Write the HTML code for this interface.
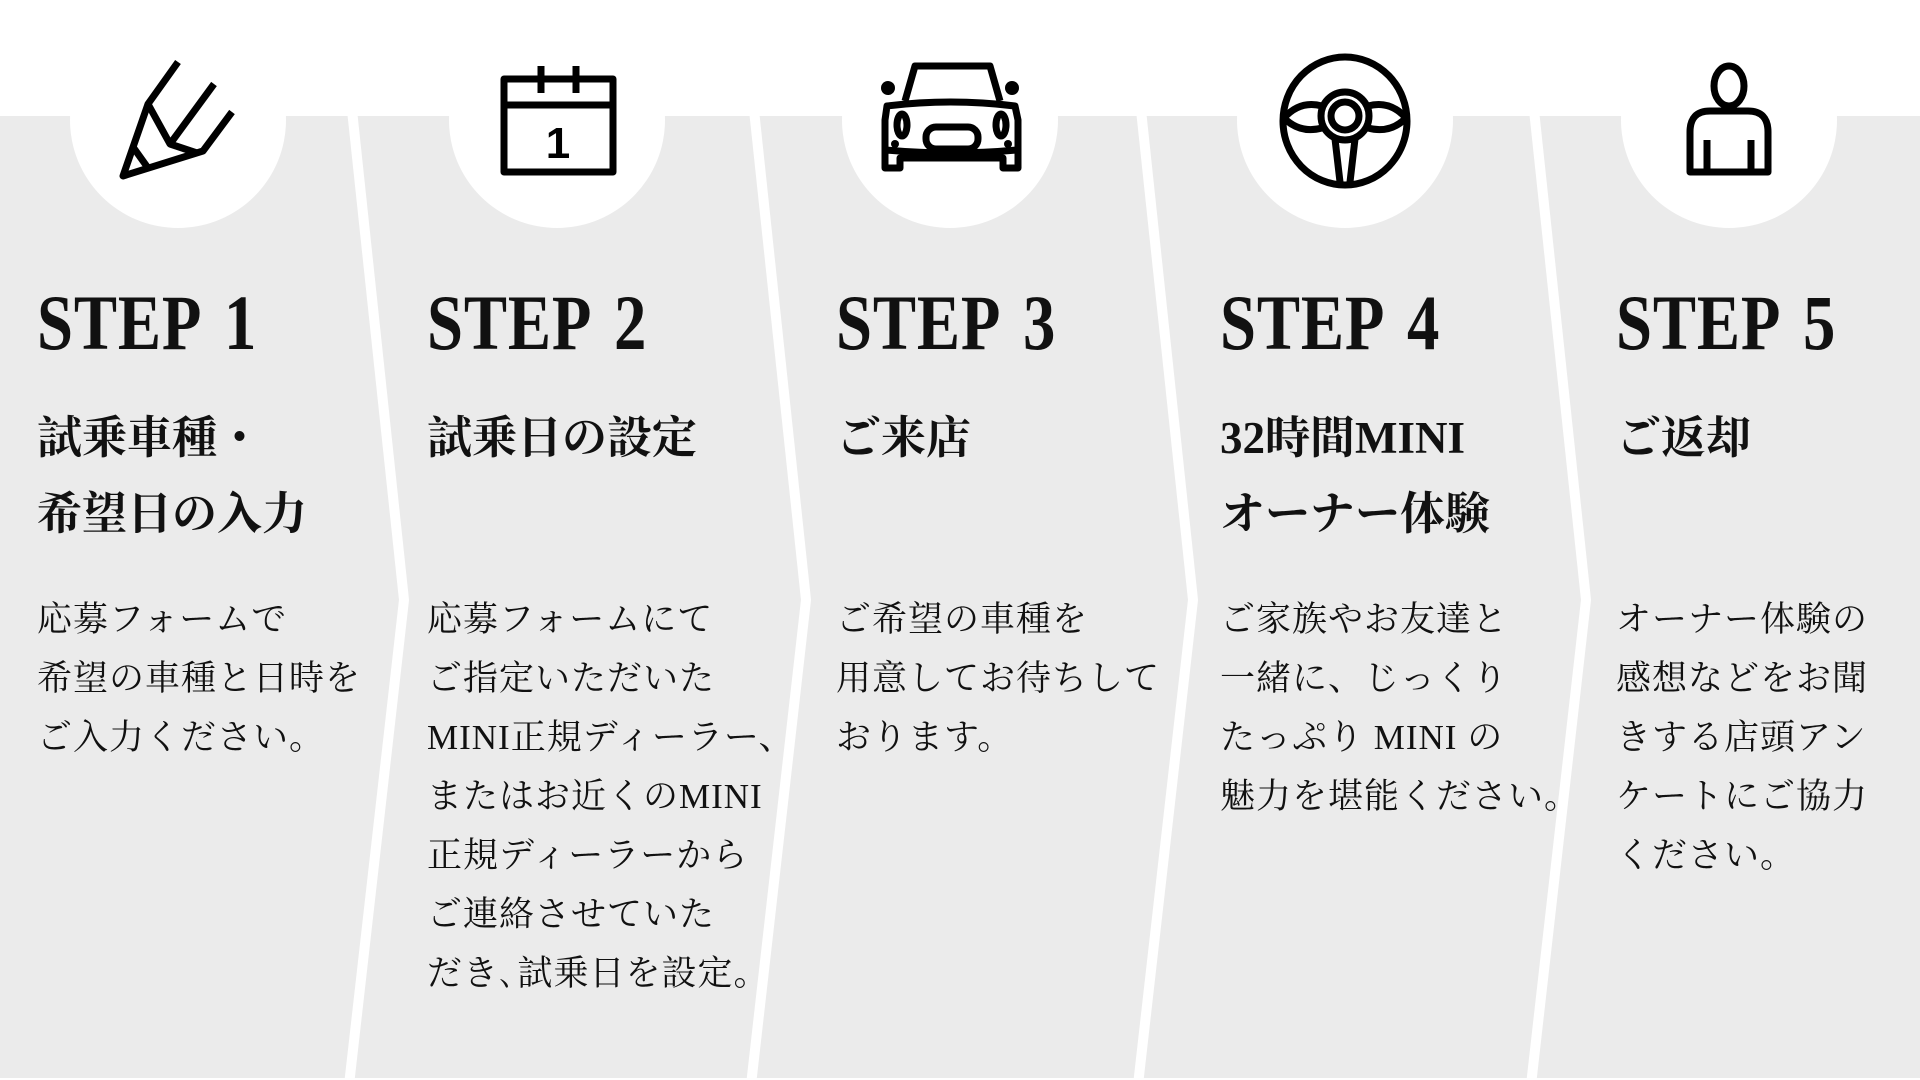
<!DOCTYPE html>
<html><head><meta charset="utf-8"><style>
html,body{margin:0;padding:0;background:#fff;}
body{width:1920px;height:1080px;position:relative;overflow:hidden;}
svg{position:absolute;left:0;top:0;}
.col{position:absolute;top:0;}
.step{position:absolute;top:284px;left:0;font:bold 78px/78px "Liberation Serif",serif;color:#111;white-space:nowrap;transform:scaleX(0.83);transform-origin:left top;letter-spacing:1px;word-spacing:10px;}
.title{position:absolute;top:400px;left:0;font:bold 45px/76px "Liberation Serif","Noto Serif CJK SC",serif;color:#111;white-space:nowrap;}
.body{position:absolute;top:590px;left:0;font:35px/59px "Liberation Serif","Noto Serif CJK SC",serif;color:#111;white-space:nowrap;letter-spacing:1px;}
</style></head><body>
<svg width="1920" height="1080" viewBox="0 0 1920 1080">
<rect x="0" y="116" width="1920" height="962" fill="#ebebeb"/>
<g stroke="#fff" stroke-width="10" fill="none">
<polyline points="352,110 404,600 349,1085"/>
<polyline points="754,110 806,600 751,1085"/>
<polyline points="1141,110 1193,600 1138,1085"/>
<polyline points="1534,110 1586,600 1531,1085"/>
</g>
<g fill="#fff">
<circle cx="178" cy="120" r="108"/>
<circle cx="557" cy="120" r="108"/>
<circle cx="950" cy="120" r="108"/>
<circle cx="1345" cy="120" r="108"/>
<circle cx="1729" cy="120" r="108"/>
</g>
<g stroke="#000" stroke-width="7" fill="none" stroke-linejoin="round">
<path d="M178,62 L148,104 L123,176 L203,151 L232,112"/>
<path d="M148,104 L170,144 L197,153"/>
<path d="M170,144 L214,84"/>
<path d="M133,147 L148,168"/>
<rect x="504" y="79" width="109" height="93"/>
<line x1="504" y1="105" x2="613" y2="105"/>
<line x1="541" y1="66" x2="541" y2="93"/>
<line x1="576" y1="66" x2="576" y2="93"/>
<path d="M905,101 L915,66 L990,66 L1000,101"/>
<path d="M887,106 Q950,98 1015,106 L1018,120 L1018,168 L1003,168 L1003,158 L900,158 L900,168 L885,168 L885,120 Z"/>
<path d="M886,150 Q950,156 1017,150"/>
<rect x="926" y="127" width="52" height="22" rx="10"/>
<ellipse cx="902" cy="125" rx="5" ry="11"/>
<ellipse cx="1001" cy="125" rx="5" ry="11"/>
<ellipse cx="1345" cy="121" rx="62" ry="64"/>
<circle cx="1345" cy="116" r="24"/>
<circle cx="1345" cy="116" r="14"/>
<path d="M1284,118 Q1300,100 1322,106 M1284,118 Q1300,134 1322,128 M1406,118 Q1390,100 1368,106 M1406,118 Q1390,134 1368,128"/>
<path d="M1335,139 L1340,182 M1355,139 L1350,182"/>
<ellipse cx="1729" cy="86" rx="15" ry="20"/>
<path d="M1690,172 L1690,132 Q1690,111 1710,111 L1748,111 Q1768,111 1768,132 L1768,172 Z"/>
<line x1="1707" y1="140" x2="1707" y2="172"/>
<line x1="1751" y1="140" x2="1751" y2="172"/>
</g>
<text x="558" y="158" font-family="Liberation Sans,sans-serif" font-weight="bold" font-size="44" text-anchor="middle" fill="#000">1</text>
<g fill="#000">
<circle cx="888" cy="88" r="7"/><circle cx="1012" cy="88" r="7"/>
<circle cx="895" cy="144" r="4"/><circle cx="1008" cy="144" r="4"/>
</g>
</svg>

<div class="col" style="left:37px">
<div class="step">STEP 1</div>
<div class="title">試乗車種・<br>希望日の入力</div>
<div class="body">応募フォームで<br>希望の車種と日時を<br>ご入力ください。</div>
</div>
<div class="col" style="left:427px">
<div class="step">STEP 2</div>
<div class="title">試乗日の設定</div>
<div class="body">応募フォームにて<br>ご指定いただいた<br>MINI正規ディーラー、<br>またはお近くのMINI<br>正規ディーラーから<br>ご連絡させていた<br>だき､試乗日を設定。</div>
</div>
<div class="col" style="left:836px">
<div class="step">STEP 3</div>
<div class="title">ご来店</div>
<div class="body">ご希望の車種を<br>用意してお待ちして<br>おります。</div>
</div>
<div class="col" style="left:1220px">
<div class="step">STEP 4</div>
<div class="title">32時間MINI<br>オーナー体験</div>
<div class="body">ご家族やお友達と<br>一緒に、じっくり<br>たっぷり MINI の<br>魅力を堪能ください。</div>
</div>
<div class="col" style="left:1616px">
<div class="step">STEP 5</div>
<div class="title">ご返却</div>
<div class="body">オーナー体験の<br>感想などをお聞<br>きする店頭アン<br>ケートにご協力<br>ください。</div>
</div>
</body></html>
